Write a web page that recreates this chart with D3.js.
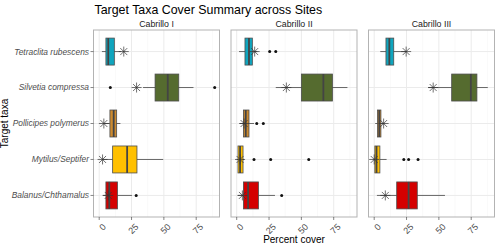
<!DOCTYPE html>
<html lang="en">
<head>
<meta charset="UTF-8">
<title>Target Taxa Cover Summary across Sites</title>
<style>
  body { margin: 0; background: #fff; }
  svg text { font-family: "Liberation Sans", Arial, sans-serif; }
</style>
</head>
<body>
<svg id="chart"></svg>
<script src="https://d3js.org/d3.v7.min.js"></script>
<script>
const sites = ['Cabrillo I', 'Cabrillo II', 'Cabrillo III'];
const taxa = ['Tetraclita rubescens', 'Silvetia compressa', 'Pollicipes polymerus', 'Mytilus/Septifer', 'Balanus/Chthamalus'];
const taxaColors = ['#0FA5BE', '#556B2F', '#CD8A2E', '#FFC000', '#D40000'];
const xTicks = [0, 25, 50, 75];

// box stats, one row per site, one value per taxon
const whiskerLo = [[2.1, 33.9, 4.0, 2.6, 2.6], [1.8, 30.2, 2.6, 0, 1.0], [4.7, 41.7, 0.8, 0, 2.1]];
const q1 = [[5.2, 43.2, 8.3, 10.4, 5.2], [6.4, 50.0, 5.2, 1.0, 5.2], [9.1, 59.9, 2.6, 0.5, 17.4]];
const median = [[7.0, 53.0, 11.2, 21.6, 7.8], [9.5, 67.0, 7.0, 2.6, 8.8], [11.7, 74.7, 3.9, 1.8, 26.6]];
const q3 = [[11.7, 61.5, 13.5, 29.2, 14.1], [12.1, 74.0, 9.5, 4.9, 16.8], [15.1, 79.4, 5.2, 4.4, 33.3]];
const whiskerHi = [[17.0, 72.9, 16.4, 49.5, 25.3], [16.0, 85.6, 13.4, 5.7, 29.6], [24.7, 87.8, 7.8, 9.6, 54.7]];
const outliers = [
  [[], [8.6, 89.3], [], [], [28.6]],
  [[25.5, 30.2], [], [15.5, 20.6], [13.4, 26.3, 55.7], [34.8]],
  [[], [], [], [22.9, 26.6, 33.9], []]
];
const starValues = [[19.0, 28.9, 3.6, 2.6, 7.0], [13.9, 38.4, 5.7, 2.6, 4.4], [24.7, 45.6, 7.3, 0, 8.6]];

const width = 498, height = 248;
const panelLeft = 93.5, panelW = 126, panelGap = 11.5;
const panelTop = 30, panelBottom = 217;

const svg = d3.select('#chart').attr('width', width).attr('height', height);

const x = d3.scaleLinear().domain([-4.4, 93]).range([0, panelW]);
const y = d3.scalePoint().domain(taxa).range([panelTop, panelBottom]).padding(0.6);
const color = d3.scaleOrdinal().domain(taxa).range(taxaColors);
const boxH = y.step() * 0.75;

svg.append('text')
  .attr('x', panelLeft + 1).attr('y', 14)
  .attr('font-size', 12.4).attr('fill', '#000')
  .text('Target Taxa Cover Summary across Sites');

sites.forEach((site, s) => {
  const px = panelLeft + s * (panelW + panelGap);
  const g = svg.append('g').attr('transform', `translate(${px},0)`);

  g.append('rect')
    .attr('x', 0).attr('y', panelTop)
    .attr('width', panelW).attr('height', panelBottom - panelTop)
    .attr('fill', '#fff');

  // grid
  const minor = xTicks.map(t => t + 12.5);
  g.selectAll('.minor').data(minor).enter().append('line')
    .attr('x1', d => x(d)).attr('x2', d => x(d))
    .attr('y1', panelTop).attr('y2', panelBottom)
    .attr('stroke', '#F2F2F2').attr('stroke-width', 0.5);
  g.selectAll('.major').data(xTicks).enter().append('line')
    .attr('x1', d => x(d)).attr('x2', d => x(d))
    .attr('y1', panelTop).attr('y2', panelBottom)
    .attr('stroke', '#EBEBEB').attr('stroke-width', 1);
  g.selectAll('.hgrid').data(taxa).enter().append('line')
    .attr('x1', 0).attr('x2', panelW)
    .attr('y1', d => y(d)).attr('y2', d => y(d))
    .attr('stroke', '#EBEBEB').attr('stroke-width', 1);

  // strip label
  g.append('text')
    .attr('x', panelW / 2).attr('y', 27)
    .attr('text-anchor', 'middle')
    .attr('font-size', 8.8).attr('fill', '#1A1A1A')
    .text(site);

  taxa.forEach((t, i) => {
    const cy = y(t);
    g.append('line')
      .attr('x1', x(whiskerLo[s][i])).attr('x2', x(whiskerHi[s][i]))
      .attr('y1', cy).attr('y2', cy)
      .attr('stroke', '#666').attr('stroke-width', 1);
    g.append('rect')
      .attr('x', x(q1[s][i])).attr('y', cy - boxH / 2)
      .attr('width', x(q3[s][i]) - x(q1[s][i])).attr('height', boxH)
      .attr('fill', color(t)).attr('stroke', '#4D4D4D').attr('stroke-width', 0.8);
    g.append('line')
      .attr('x1', x(median[s][i])).attr('x2', x(median[s][i]))
      .attr('y1', cy - boxH / 2).attr('y2', cy + boxH / 2)
      .attr('stroke', '#444').attr('stroke-width', 1.8);
    g.selectAll(null).data(outliers[s][i]).enter().append('circle')
      .attr('cx', d => x(d)).attr('cy', cy).attr('r', 1.5)
      .attr('fill', '#111');
    // asterisk marker
    const sx = x(starValues[s][i]), r = 5;
    const star = g.append('g').attr('transform', `translate(${sx},${cy})`);
    [[-r, 0, r, 0], [0, -r, 0, r], [-r * 0.7, -r * 0.7, r * 0.7, r * 0.7], [-r * 0.7, r * 0.7, r * 0.7, -r * 0.7]]
      .forEach(l => star.append('line')
        .attr('x1', l[0]).attr('y1', l[1]).attr('x2', l[2]).attr('y2', l[3])
        .attr('stroke', '#333').attr('stroke-width', 0.7));
  });

  g.append('rect')
    .attr('x', 0).attr('y', panelTop)
    .attr('width', panelW).attr('height', panelBottom - panelTop)
    .attr('fill', 'none').attr('stroke', '#B3B3B3').attr('stroke-width', 1);

  // x ticks and rotated labels
  const xa = g.append('g');
  xa.selectAll('line').data(xTicks).enter().append('line')
    .attr('x1', d => x(d)).attr('x2', d => x(d))
    .attr('y1', panelBottom).attr('y2', panelBottom + 3)
    .attr('stroke', '#333').attr('stroke-width', 0.6);
  xa.selectAll('text').data(xTicks).enter().append('text')
    .attr('transform', d => `translate(${x(d) + 3},${panelBottom + 6}) rotate(-45)`)
    .attr('text-anchor', 'end').attr('dy', '0.7em')
    .attr('font-size', 9).attr('fill', '#4D4D4D')
    .text(d => d);
});

// y axis labels
const ya = svg.append('g');
ya.selectAll('line').data(taxa).enter().append('line')
  .attr('x1', panelLeft - 3).attr('x2', panelLeft)
  .attr('y1', d => y(d)).attr('y2', d => y(d))
  .attr('stroke', '#333').attr('stroke-width', 0.6);
ya.selectAll('text').data(taxa).enter().append('text')
  .attr('x', panelLeft - 4.5).attr('y', d => y(d)).attr('dy', '0.35em')
  .attr('text-anchor', 'end').attr('font-size', 8.4).attr('font-style', 'italic')
  .attr('fill', '#4D4D4D')
  .text(d => d);

svg.append('text')
  .attr('transform', `translate(8,${(panelTop + panelBottom) / 2}) rotate(-90)`)
  .attr('text-anchor', 'middle').attr('font-size', 10).attr('fill', '#000')
  .text('Target taxa');

const lastRight = panelLeft + 3 * panelW + 2 * panelGap;
svg.append('text')
  .attr('x', (panelLeft + lastRight) / 2).attr('y', 243)
  .attr('text-anchor', 'middle').attr('font-size', 10).attr('fill', '#000')
  .text('Percent cover');
</script>
</body>
</html>
